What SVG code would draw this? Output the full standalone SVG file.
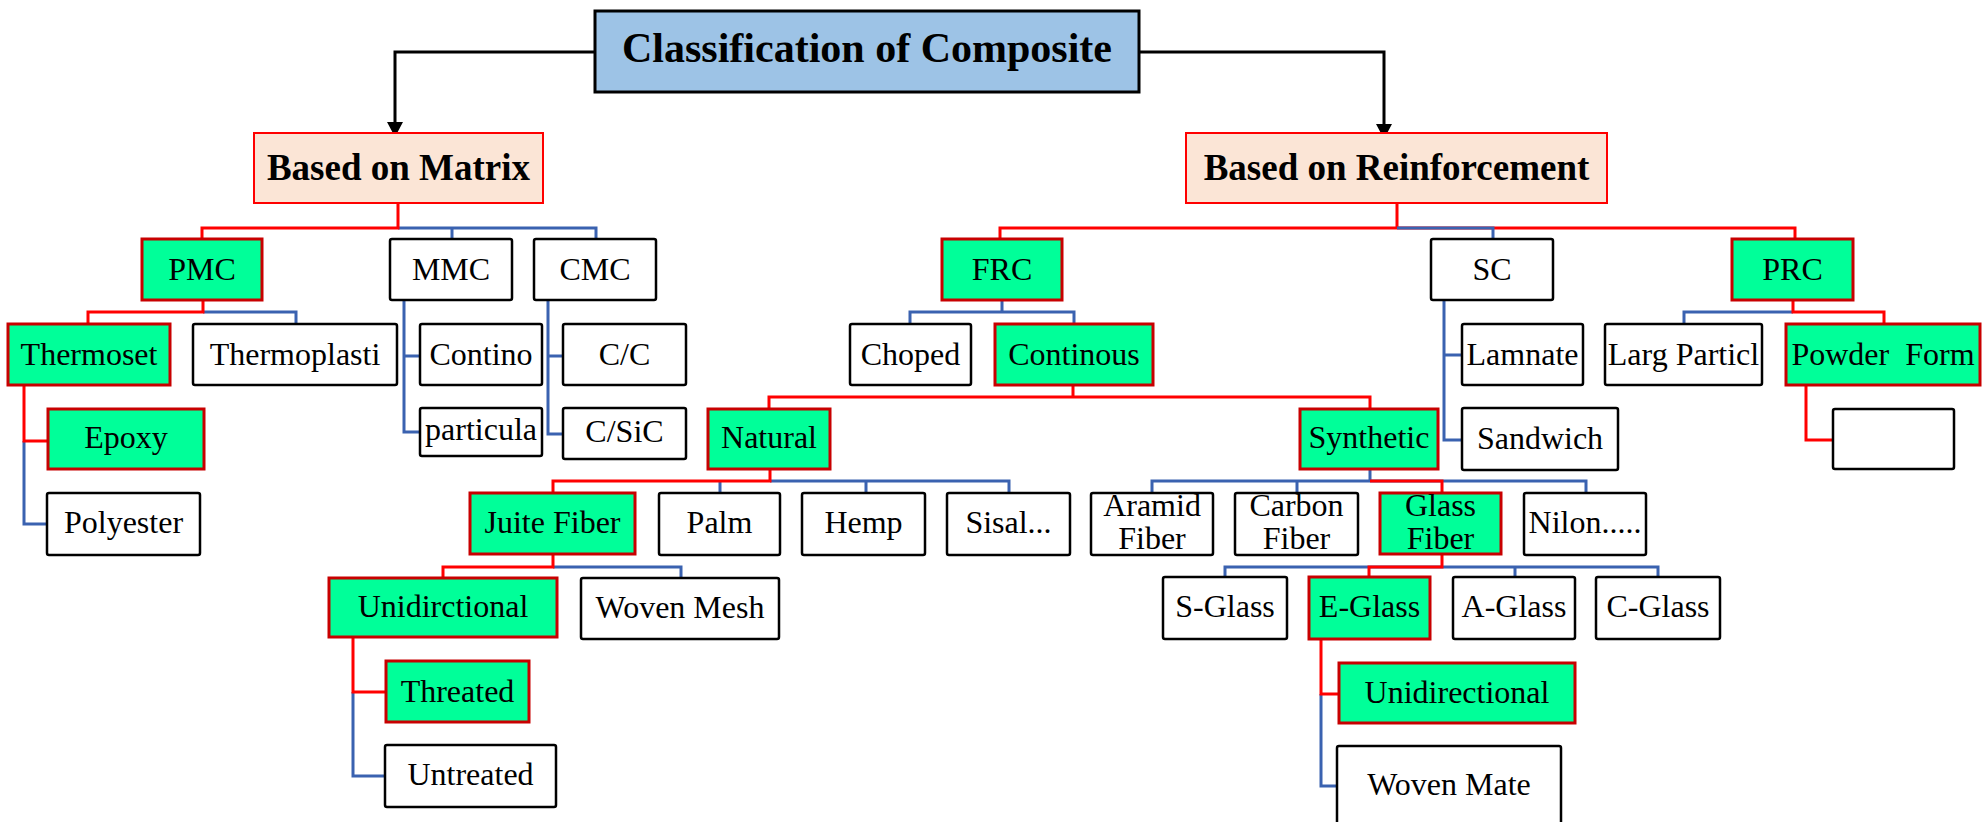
<svg xmlns="http://www.w3.org/2000/svg" width="1988" height="822" viewBox="0 0 1988 822">
<style>
text{font-family:"Liberation Serif","Times New Roman",serif;font-size:32px;fill:#000;text-anchor:middle}
.h{font-weight:bold;font-size:37px}
.t{font-weight:bold;font-size:42px}
.w{fill:#fff;stroke:#000;stroke-width:2.5}
.g{fill:#00FF99;stroke:#C80000;stroke-width:3}
.b{fill:#FBE5D6;stroke:#FF0000;stroke-width:2}
.ti{fill:#9DC3E6;stroke:#000;stroke-width:3}
.r{fill:none;stroke:#FF0000;stroke-width:3}
.u{fill:none;stroke:#3A62B0;stroke-width:3}
.k{fill:none;stroke:#000;stroke-width:3}
</style>
<defs>
<marker id="ar" markerUnits="userSpaceOnUse" markerWidth="16" markerHeight="16" viewBox="0 0 15 16" refX="15" refY="8" orient="auto">
<path d="M0,0 L15,8 L0,16 z" fill="#000"/>
</marker>
</defs>
<rect width="1988" height="822" fill="#fff"/>
<g id="connectors">
<path class="k" d="M595,52 H395 V137" marker-end="url(#ar)"/>
<path class="k" d="M1139,52 H1384 V139" marker-end="url(#ar)"/>
<path class="u" d="M398,228 H596 V239 M452,228 V239"/>
<path class="r" d="M398,203 V228 H202 V239"/>
<path class="u" d="M203,312 H296 V324"/>
<path class="r" d="M203,301 V312 H88 V324"/>
<path class="u" d="M24,441 V524 H47"/>
<path class="r" d="M24,385 V441 H48"/>
<path class="u" d="M404,300 V432 H420 M404,356 H420"/>
<path class="u" d="M548,300 V434 H563 M548,356 H563"/>
<path class="r" d="M1397,203 V228 M1000,239 V228 H1795 V239"/>
<path class="u" d="M1397,228 H1493 V239"/>
<path class="u" d="M1002,301 V312 H910 V324 M1002,312 H1074 V324"/>
<path class="r" d="M1073,385 V397 H769 V409 M1073,397 H1370 V409"/>
<path class="u" d="M1444,300 V440 H1462 M1444,355 H1462"/>
<path class="u" d="M1793,312 H1684 V324"/>
<path class="r" d="M1793,300 V312 H1884 V324"/>
<path class="r" d="M1806,385 V440 H1833"/>
<path class="u" d="M770,481 H1009 V493 M720,481 V493 M866,481 V493"/>
<path class="r" d="M770,469 V481 H553 V493"/>
<path class="u" d="M1370,469 V481 M1152,493 V481 H1586 V493 M1297,481 V493"/>
<path class="r" d="M1370,481 H1442 V493"/>
<path class="u" d="M553,567 H681 V578"/>
<path class="r" d="M553,554 V567 H443 V578"/>
<path class="u" d="M353,692 V776 H385"/>
<path class="r" d="M353,637 V692 H386"/>
<path class="u" d="M1225,577 V567 H1658 V577 M1515,567 V577"/>
<path class="r" d="M1442,555 V567 H1369 V577"/>
<path class="u" d="M1321,694 V786 H1337"/>
<path class="r" d="M1321,639 V694 H1339"/>
</g>
<g id="n-title"><rect class="ti" x="595" y="11" width="544" height="81"/><text class="t" x="867" y="62">Classification of Composite</text></g>
<g id="n-matrix"><rect class="b" x="254" y="133" width="289" height="70"/><text class="h" x="398.5" y="180">Based on Matrix</text></g>
<g id="n-reinf"><rect class="b" x="1186" y="133" width="421" height="70"/><text class="h" x="1396.5" y="180">Based on Reinforcement</text></g>
<g id="n-pmc"><rect class="g" x="142" y="239" width="120" height="61"/><text x="202" y="280">PMC</text></g>
<g id="n-mmc"><rect class="w" x="390" y="239" width="122" height="61" rx="2"/><text x="451" y="280">MMC</text></g>
<g id="n-cmc"><rect class="w" x="534" y="239" width="122" height="61" rx="2"/><text x="595" y="280">CMC</text></g>
<g id="n-frc"><rect class="g" x="942" y="239" width="120" height="61"/><text x="1002" y="280">FRC</text></g>
<g id="n-sc"><rect class="w" x="1431" y="239" width="122" height="61" rx="2"/><text x="1492" y="280">SC</text></g>
<g id="n-prc"><rect class="g" x="1732" y="239" width="121" height="61"/><text x="1792.5" y="280">PRC</text></g>
<g id="n-thermoset"><rect class="g" x="8" y="324" width="162" height="61"/><text x="89" y="365">Thermoset</text></g>
<g id="n-thermoplasti"><rect class="w" x="193" y="324" width="204" height="61" rx="2"/><text x="295" y="365">Thermoplasti</text></g>
<g id="n-contino"><rect class="w" x="420" y="324" width="122" height="61" rx="2"/><text x="481" y="365">Contino</text></g>
<g id="n-cc"><rect class="w" x="563" y="324" width="123" height="61" rx="2"/><text x="624.5" y="365">C/C</text></g>
<g id="n-choped"><rect class="w" x="850" y="324" width="121" height="61" rx="2"/><text x="910.5" y="365">Choped</text></g>
<g id="n-continous"><rect class="g" x="995" y="324" width="158" height="61"/><text x="1074" y="365">Continous</text></g>
<g id="n-lamnate"><rect class="w" x="1462" y="324" width="121" height="61" rx="2"/><text x="1522.5" y="365">Lamnate</text></g>
<g id="n-larg"><rect class="w" x="1605" y="324" width="157" height="61" rx="2"/><text x="1683.5" y="365">Larg Particl</text></g>
<g id="n-powder"><rect class="g" x="1786" y="324" width="194" height="61"/><text x="1883" y="365" xml:space="preserve">Powder  Form</text></g>
<g id="n-epoxy"><rect class="g" x="48" y="409" width="156" height="60"/><text x="126" y="448">Epoxy</text></g>
<g id="n-particula"><rect class="w" x="420" y="408" width="122" height="48" rx="2"/><text x="481" y="440">particula</text></g>
<g id="n-csic"><rect class="w" x="563" y="408" width="123" height="51" rx="2"/><text x="624.5" y="442">C/SiC</text></g>
<g id="n-natural"><rect class="g" x="708" y="409" width="122" height="60"/><text x="769" y="448">Natural</text></g>
<g id="n-synthetic"><rect class="g" x="1300" y="409" width="138" height="60"/><text x="1369" y="448">Synthetic</text></g>
<g id="n-sandwich"><rect class="w" x="1462" y="408" width="156" height="62" rx="2"/><text x="1540" y="449">Sandwich</text></g>
<g id="n-empty"><rect class="w" x="1833" y="409" width="121" height="60" rx="2"/></g>
<g id="n-polyester"><rect class="w" x="47" y="493" width="153" height="62" rx="2"/><text x="123.5" y="533">Polyester</text></g>
<g id="n-juite"><rect class="g" x="470" y="493" width="165" height="61"/><text x="552.5" y="533">Juite Fiber</text></g>
<g id="n-palm"><rect class="w" x="659" y="493" width="121" height="62" rx="2"/><text x="719.5" y="533">Palm</text></g>
<g id="n-hemp"><rect class="w" x="802" y="493" width="123" height="62" rx="2"/><text x="863.5" y="533">Hemp</text></g>
<g id="n-sisal"><rect class="w" x="947" y="493" width="123" height="62" rx="2"/><text x="1008.5" y="533">Sisal...</text></g>
<g id="n-aramid"><rect class="w" x="1091" y="493" width="122" height="62" rx="2"/><text x="1152" y="516">Aramid</text><text x="1152" y="549">Fiber</text></g>
<g id="n-carbon"><rect class="w" x="1235" y="493" width="123" height="62" rx="2"/><text x="1296.5" y="516">Carbon</text><text x="1296.5" y="549">Fiber</text></g>
<g id="n-glass"><rect class="g" x="1380" y="493" width="121" height="61"/><text x="1440.5" y="516">Glass</text><text x="1440.5" y="549">Fiber</text></g>
<g id="n-nilon"><rect class="w" x="1524" y="493" width="122" height="62" rx="2"/><text x="1585" y="533">Nilon.....</text></g>
<g id="n-unidirctional"><rect class="g" x="329" y="578" width="228" height="59"/><text x="443" y="617">Unidirctional</text></g>
<g id="n-wovenmesh"><rect class="w" x="581" y="578" width="198" height="61" rx="2"/><text x="680" y="618">Woven Mesh</text></g>
<g id="n-sglass"><rect class="w" x="1163" y="577" width="124" height="62" rx="2"/><text x="1225" y="617">S-Glass</text></g>
<g id="n-eglass"><rect class="g" x="1309" y="577" width="121" height="62"/><text x="1369.5" y="617">E-Glass</text></g>
<g id="n-aglass"><rect class="w" x="1453" y="577" width="122" height="62" rx="2"/><text x="1514" y="617">A-Glass</text></g>
<g id="n-cglass"><rect class="w" x="1596" y="577" width="124" height="62" rx="2"/><text x="1658" y="617">C-Glass</text></g>
<g id="n-threated"><rect class="g" x="386" y="661" width="143" height="61"/><text x="457.5" y="702">Threated</text></g>
<g id="n-unidirectional"><rect class="g" x="1339" y="663" width="236" height="60"/><text x="1457" y="703">Unidirectional</text></g>
<g id="n-untreated"><rect class="w" x="385" y="745" width="171" height="62" rx="2"/><text x="470.5" y="785">Untreated</text></g>
<g id="n-wovenmate"><rect class="w" x="1337" y="746" width="224" height="90" rx="2"/><text x="1449" y="795">Woven Mate</text></g>
</svg>
